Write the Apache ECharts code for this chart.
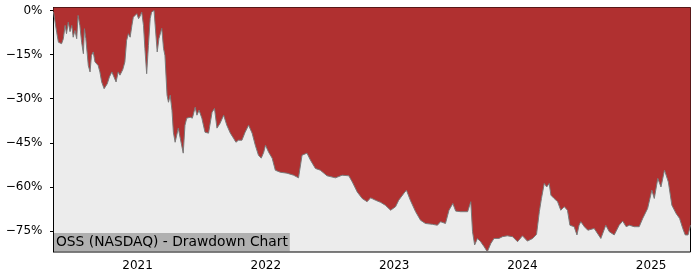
<!DOCTYPE html>
<html>
<head>
<meta charset="utf-8">
<script src="https://cdn.jsdelivr.net/npm/echarts@6/dist/echarts.min.js"></script>
<style>
html,body{margin:0;padding:0;background:#fff;}
#chart{width:700px;height:280px;}
</style>
</head>
<body>
<div id="chart"></div>
<script>
const title = 'OSS (NASDAQ) - Drawdown Chart';
const dates = [
'2020-05-07','2020-05-16','2020-05-21','2020-05-25','2020-05-30','2020-06-04','2020-06-09','2020-06-13','2020-06-18','2020-06-23',
'2020-06-28','2020-07-02','2020-07-07','2020-07-12','2020-07-16','2020-07-21','2020-07-26','2020-07-31','2020-08-03','2020-08-07',
'2020-08-14','2020-08-19','2020-08-23','2020-08-28','2020-09-02','2020-09-11','2020-09-16','2020-09-21','2020-09-28','2020-10-02',
'2020-10-07','2020-10-13','2020-10-20','2020-10-26','2020-11-01','2020-11-07','2020-11-12','2020-11-20','2020-11-26','2020-12-01',
'2020-12-06','2020-12-11','2020-12-16','2020-12-20','2020-12-25','2020-12-30','2021-01-04','2021-01-08','2021-01-13','2021-01-18',
'2021-01-22','2021-01-27','2021-02-01','2021-02-06','2021-02-10','2021-02-17','2021-02-20','2021-02-26','2021-03-03','2021-03-11',
'2021-03-16','2021-03-20','2021-03-26','2021-03-30','2021-04-04','2021-04-09','2021-04-13','2021-04-18','2021-04-23','2021-04-27',
'2021-05-02','2021-05-07','2021-05-11','2021-05-16','2021-05-21','2021-05-31','2021-06-06','2021-06-14','2021-06-19','2021-06-25',
'2021-07-03','2021-07-12','2021-07-22','2021-08-01','2021-08-08','2021-08-15','2021-08-24','2021-09-03','2021-09-12','2021-09-22',
'2021-10-01','2021-10-08','2021-10-15','2021-10-25','2021-11-03','2021-11-13','2021-11-23','2021-12-02','2021-12-11','2021-12-19',
'2021-12-26','2021-12-31','2022-01-09','2022-01-19','2022-01-28','2022-02-11','2022-03-02','2022-03-21','2022-04-04','2022-04-14',
'2022-04-28','2022-05-08','2022-05-22','2022-06-05','2022-06-24','2022-07-18','2022-08-06','2022-08-25','2022-09-04','2022-09-18',
'2022-10-02','2022-10-16','2022-10-26','2022-11-09','2022-11-23','2022-12-07','2022-12-22','2023-01-05','2023-01-14','2023-01-29',
'2023-02-05','2023-02-16','2023-03-03','2023-03-17','2023-03-31','2023-04-20','2023-05-04','2023-05-13','2023-05-27','2023-06-06',
'2023-06-17','2023-06-25','2023-07-09','2023-07-29','2023-08-07','2023-08-12','2023-08-18','2023-08-26','2023-09-04','2023-09-14',
'2023-09-23','2023-10-03','2023-10-12','2023-10-26','2023-11-05','2023-11-19','2023-12-04','2023-12-18','2024-01-01','2024-01-15',
'2024-01-30','2024-02-10','2024-02-18','2024-02-24','2024-03-03','2024-03-10','2024-03-17','2024-03-22','2024-03-31','2024-04-10',
'2024-04-19','2024-04-29','2024-05-08','2024-05-15','2024-05-27','2024-06-04','2024-06-10','2024-06-15','2024-06-25','2024-07-05',
'2024-07-23','2024-08-11','2024-08-25','2024-09-04','2024-09-18','2024-10-02','2024-10-12','2024-10-22','2024-10-31','2024-11-14',
'2024-11-28','2024-12-08','2024-12-22','2025-01-03','2025-01-10','2025-01-20','2025-01-29','2025-02-08','2025-02-19','2025-03-01',
'2025-03-13','2025-03-23','2025-04-01','2025-04-08','2025-04-16','2025-04-23'
];
const drawdown = [
-0.5,-7.4,-10.8,-11.3,-11.3,-9.6,-5.1,-7.9,-4.0,-7.2,
-5.1,-9.1,-6.8,-9.6,-1.7,-5.1,-10.8,-14.7,-6.2,-9.6,
-18.7,-20.9,-15.3,-14.1,-17.5,-18.7,-20.9,-24.3,-26.6,-27.1,
-24.9,-22.6,-20.9,-22.6,-24.3,-20.9,-22.0,-20.1,-17.5,-10.2,
-7.9,-9.1,-5.1,-2.3,-2.8,-1.1,-2.8,-2.0,-0.6,-5.1,
-13.0,-21.5,-11.9,-2.8,-0.6,0,0,-14.1,-9.5,-6.1,
-12.9,-15.3,-28.8,-31.2,-28.8,-33.9,-41.4,-44.8,-44.8,-40.0,
-43.1,-43.1,-48.5,-39.0,-36.6,-36.3,-36.6,-32.9,-35.6,-33.9,
-36.6,-41.4,-41.7,-34.6,-33.3,-40.0,-38.3,-35.6,-39.0,-41.7,
-43.4,-44.8,-44.1,-44.1,-41.4,-39.0,-41.7,-45.8,-49.2,-50.2,
-48.2,-45.8,-48.2,-50.2,-54.3,-55.0,-55.3,-56.0,-56.9,-49.2,
-48.5,-50.9,-53.7,-54.3,-56.2,-56.9,-56.0,-56.2,-58.3,-61.7,
-63.9,-65.0,-63.7,-64.5,-65.2,-66.2,-67.9,-66.7,-64.5,-62.1,
-61.1,-64.5,-68.4,-71.3,-72.4,-72.7,-73.0,-71.8,-72.4,-67.9,
-65.6,-68.2,-68.4,-68.4,-65.0,-75.2,-79.7,-77.5,-78.6,-80.3,
-82.0,-79.2,-77.5,-77.5,-76.9,-76.6,-76.9,-78.6,-76.6,-78.4,
-77.5,-76.1,-68.4,-63.9,-58.8,-60.0,-58.8,-62.8,-63.9,-65.0,
-67.9,-66.7,-67.9,-73.0,-73.5,-76.3,-73.0,-71.8,-73.5,-74.7,
-74.1,-77.5,-73.0,-75.2,-76.3,-73.0,-71.6,-73.5,-73.0,-73.5,
-73.5,-70.7,-67.3,-61.1,-63.9,-57.1,-60.0,-54.3,-58.3,-66.2,
-69.0,-70.7,-74.1,-76.3,-76.3,-73.0
];
const yTicks = [0, -15, -30, -45, -60, -75];
const xTicks = ['2021-01-01', '2022-01-01', '2023-01-01', '2024-01-01', '2025-01-01'];

const toTs = s => new Date(s + 'T00:00:00Z').getTime();
const chart = echarts.init(document.getElementById('chart'), null, {renderer: 'canvas'});
const seriesData = dates.map((d, i) => [toTs(d), drawdown[i]]);
const xTickVals = xTicks.map(toTs);
const font = 'DejaVu Sans';

chart.setOption({
  animation: false,
  backgroundColor: '#ffffff',
  grid: {
    left: 53.5, right: 9.5, top: 7.5, bottom: 28,
    show: true, backgroundColor: '#ececec', borderColor: '#000', borderWidth: 1
  },
  xAxis: {
    type: 'value',
    min: toTs(dates[0]),
    max: toTs(dates[dates.length - 1]),
    axisLine: {show: true, lineStyle: {color: '#000', width: 1}},
    axisTick: {show: true, length: 3.5, inside: false, customValues: xTickVals, lineStyle: {color: '#000'}},
    axisLabel: {
      customValues: xTickVals, color: '#000', fontFamily: font, fontSize: 12, margin: 8,
      formatter: v => String(new Date(v).getUTCFullYear())
    },
    splitLine: {show: false}
  },
  yAxis: {
    type: 'value',
    min: -82.1, max: 1.0,
    axisLine: {show: true, lineStyle: {color: '#000', width: 1}},
    axisTick: {show: true, length: 3.5, customValues: yTicks, lineStyle: {color: '#000'}},
    axisLabel: {
      customValues: yTicks, color: '#000', fontFamily: font, fontSize: 12, margin: 11,
      formatter: v => (v < 0 ? '\u2212' : '') + Math.abs(v) + '%'
    },
    splitLine: {show: false}
  },
  series: [{
    type: 'line',
    data: seriesData,
    showSymbol: false,
    symbol: 'none',
    lineStyle: {color: '#7a7a7a', width: 1},
    areaStyle: {color: '#b03030', opacity: 1, origin: 'end'},
    z: 2
  }],
  graphic: [{
    type: 'text',
    left: 54, top: 233,
    z: 10,
    style: {
      text: title,
      font: '13.8px "DejaVu Sans"',
      lineHeight: 16,
      fill: '#000',
      backgroundColor: '#b0b0b0',
      padding: [1, 2, 1, 2]
    }
  }]
});
</script>
</body>
</html>
